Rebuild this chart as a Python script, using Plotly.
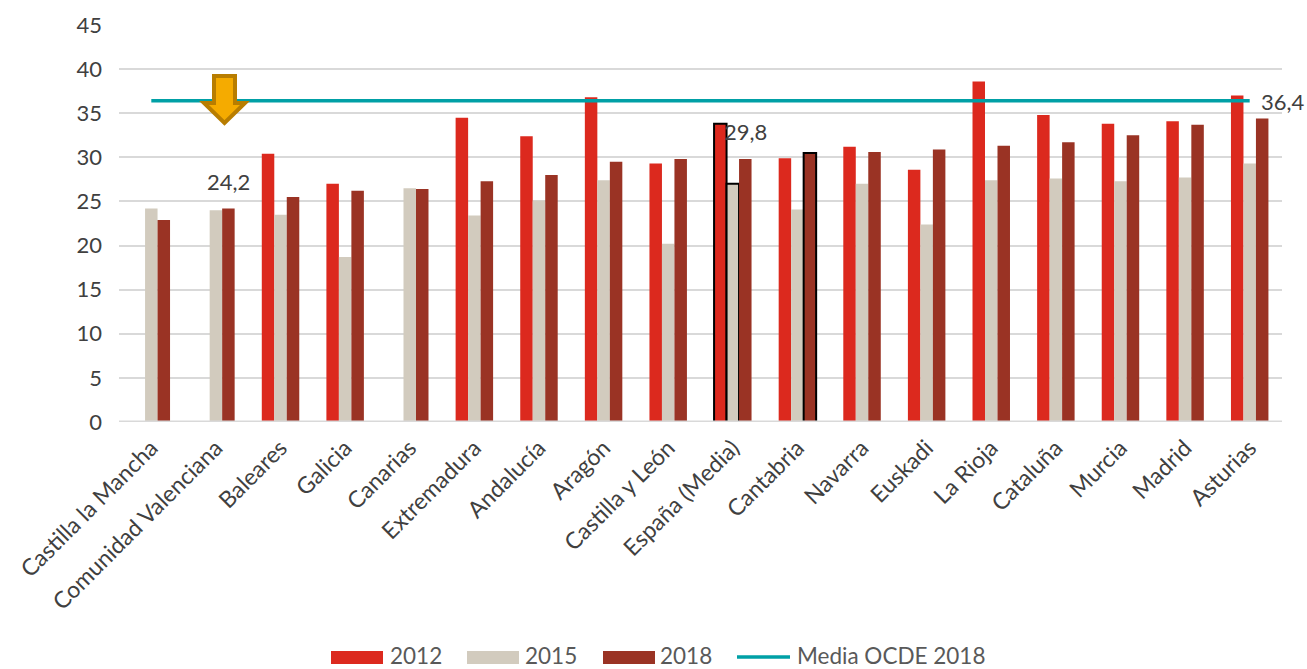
import plotly.graph_objects as go

categories = ["Castilla la Mancha", "Comunidad Valenciana", "Baleares", "Galicia", "Canarias",
              "Extremadura", "Andalucía", "Aragón", "Castilla y León", "España (Media)",
              "Cantabria", "Navarra", "Euskadi", "La Rioja", "Cataluña", "Murcia", "Madrid", "Asturias"]
v2012 = [None, None, 30.4, 27.0, None, 34.5, 32.4, 36.8, 29.3, 33.8, 29.9, 31.2, 28.6, 38.6, 34.8, 33.8, 34.1, 37.0]
v2015 = [24.2, 24.0, 23.5, 18.7, 26.5, 23.4, 25.1, 27.4, 20.2, 27.0, 24.1, 27.0, 22.4, 27.4, 27.6, 27.3, 27.7, 29.3]
v2018 = [22.9, 24.2, 25.5, 26.2, 26.4, 27.3, 28.0, 29.5, 29.8, 29.8, 30.5, 30.6, 30.9, 31.3, 31.7, 32.5, 33.7, 34.4]
ocde = [36.4] * len(categories)
y_ticks = [0, 5, 10, 15, 20, 25, 30, 35, 40, 45]

RED, BEIGE, BROWN, TEAL = "#DC291E", "#D2CBBE", "#9A3324", "#00A0A6"
TEXT, LEG = "#404040", "#595959"
GRID = "#D9D9D9"
FONT = "Lato"
W, H = 1307, 669
L, R, T, B = 119, 1282, 25, 422


def px(x):
    return (x - L) / (R - L)


def py(y):
    return (B - y) / (B - T)


def outline(cats):
    return dict(color="black", width=[2 if c in cats else 0 for c in categories])


fig = go.Figure()
fig.add_bar(name="2012", x=categories, y=v2012, marker=dict(color=RED, line=outline({"España (Media)"})))
fig.add_bar(name="2015", x=categories, y=v2015, marker=dict(color=BEIGE, line=outline({"España (Media)"})))
fig.add_bar(name="2018", x=categories, y=v2018, marker=dict(color=BROWN, line=outline({"Cantabria"})))
fig.add_scatter(name="Media OCDE 2018", x=categories, y=ocde, mode="lines",
                line=dict(color=TEAL, width=3.5))

# Baseline above the bars, so the outlined bars have no black foot
shapes = [dict(type="line", xref="paper", yref="y", x0=0, x1=1, y0=0, y1=0,
               line=dict(color=GRID, width=3), layer="above")]
annotations = [
    dict(x="Comunidad Valenciana", y=24.2, text="24,2", xshift=13, yshift=12, yanchor="bottom"),
    dict(x="España (Media)", y=29.8, text="29,8", xshift=13, yshift=12, yanchor="bottom"),
    dict(xref="paper", yref="paper", x=px(1283), y=py(102), text="36,4", xanchor="center", yanchor="middle"),
]
annotations = [dict(a, showarrow=False, font=dict(family=FONT, size=22, color=TEXT)) for a in annotations]

# Arrow marker
pts = [(214, 76), (235, 76), (235, 103), (245, 103), (224.5, 123), (204, 103), (214, 103)]
path = "M" + " L".join(f"{px(a):.5f},{py(b):.5f}" for a, b in pts) + " Z"
shapes.append(dict(type="path", xref="paper", yref="paper", path=path, fillcolor="#F5AB00",
                   line=dict(color="#B87D00", width=4), layer="above"))

# Legend
for x0, x1, col, lab, tx in [(331, 383, RED, "2012", 388), (467, 519, BEIGE, "2015", 523),
                             (603, 655, BROWN, "2018", 658)]:
    shapes.append(dict(type="rect", xref="paper", yref="paper", x0=px(x0), x1=px(x1), y0=py(664), y1=py(651),
                       fillcolor=col, line=dict(width=0)))
    annotations.append(dict(xref="paper", yref="paper", x=px(tx), y=py(655.5), text=lab, showarrow=False,
                            xanchor="left", yanchor="middle", font=dict(family=FONT, size=22.5, color=LEG)))
shapes.append(dict(type="line", xref="paper", yref="paper", x0=px(737), x1=px(790), y0=py(657), y1=py(657),
                   line=dict(color=TEAL, width=3.5)))
annotations.append(dict(xref="paper", yref="paper", x=px(795), y=py(655.5), text="Media OCDE 2018", showarrow=False,
                        xanchor="left", yanchor="middle", font=dict(family=FONT, size=22.5, color=LEG)))

fig.update_layout(
    width=W, height=H, autosize=False, showlegend=False,
    margin=dict(l=L, r=W - R, t=T, b=H - B, pad=0),
    barmode="group", bargap=0.42, bargroupgap=0,
    plot_bgcolor="white", paper_bgcolor="white",
    font=dict(family=FONT, size=22, color=TEXT),
    shapes=shapes, annotations=annotations,
    xaxis=dict(type="category", categoryorder="array", categoryarray=categories, tickangle=-45,
               range=[-0.5, len(categories) - 0.5], autorange=False,
               showgrid=False, ticks="", showline=False, ticklabelstandoff=7,
               tickfont=dict(family=FONT, size=23, color=TEXT), automargin=False),
    yaxis=dict(range=[0, 45], autorange=False, tickvals=y_ticks, showgrid=True, gridcolor=GRID, gridwidth=2,
               zeroline=False, ticks="", ticklabelstandoff=16,
               tickfont=dict(family=FONT, size=22, color=TEXT), automargin=False),
)
fig.write_html("out.html", config=dict(displayModeBar=False),
               post_script="document.body.style.margin='0';document.documentElement.style.overflow='hidden';")
